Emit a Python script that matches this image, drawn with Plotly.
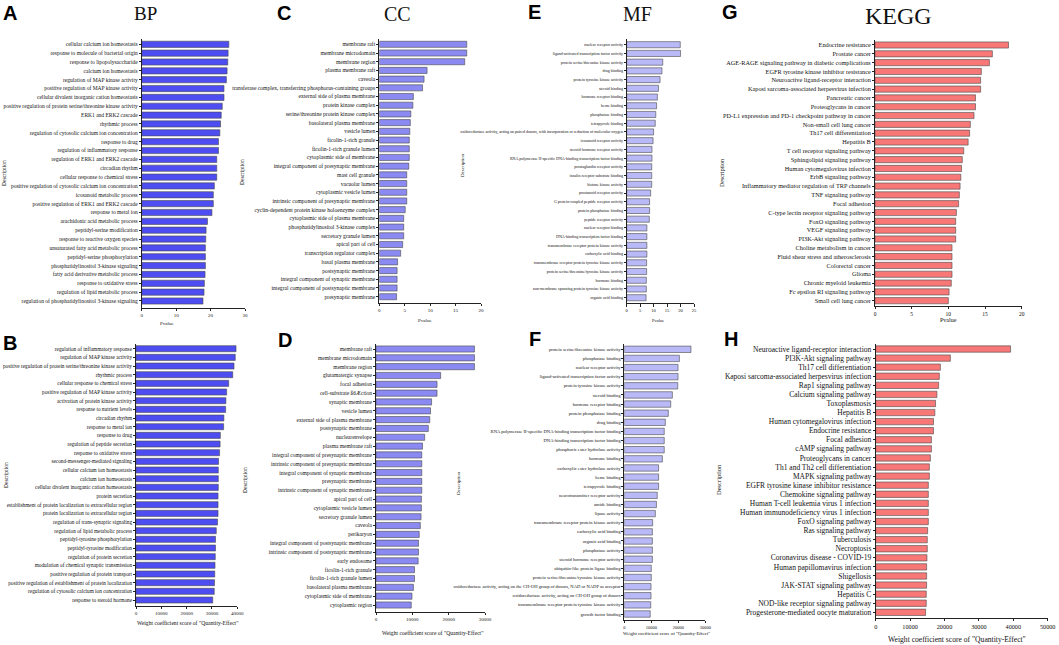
import plotly.graph_objects as go

W, H = 1059, 645

# ---------------- DATA ----------------
A_terms = ["cellular calcium ion homeostasis", "response to molecule of bacterial origin", "response to lipopolysaccharide",
           "calcium ion homeostasis", "regulation of MAP kinase activity", "positive regulation of MAP kinase activity",
           "cellular divalent inorganic cation homeostasis", "positive regulation of protein serine/threonine kinase activity",
           "ERK1 and ERK2 cascade", "rhythmic process", "regulation of cytosolic calcium ion concentration", "response to drug",
           "regulation of inflammatory response", "regulation of ERK1 and ERK2 cascade", "circadian rhythm",
           "cellular response to chemical stress", "positive regulation of cytosolic calcium ion concentration",
           "icosanoid metabolic process", "positive regulation of ERK1 and ERK2 cascade", "response to metal ion",
           "arachidonic acid metabolic process", "peptidyl-serine modification", "response to reactive oxygen species",
           "unsaturated fatty acid metabolic process", "peptidyl-serine phosphorylation", "phosphatidylinositol 3-kinase signaling",
           "fatty acid derivative metabolic process", "response to oxidative stress", "regulation of lipid metabolic process",
           "regulation of phosphatidylinositol 3-kinase signaling"]
A_vals = [25.3, 25.1, 25.0, 24.8, 24.6, 23.9, 23.9, 23.4, 23.1, 22.9, 22.7, 22.3, 22.3, 21.8, 21.8, 21.8, 21.1, 20.8, 20.8, 20.4,
          19.1, 18.7, 18.6, 18.5, 18.5, 18.5, 18.4, 18.2, 18.1, 17.8]

B_terms = ["regulation of inflammatory response", "regulation of MAP kinase activity",
           "positive regulation of protein serine/threonine kinase activity", "rhythmic process",
           "cellular response to chemical stress", "positive regulation of MAP kinase activity",
           "activation of protein kinase activity", "response to nutrient levels", "circadian rhythm", "response to metal ion",
           "response to drug", "regulation of peptide secretion", "response to oxidative stress",
           "second-messenger-mediated signaling", "cellular calcium ion homeostasis", "calcium ion homeostasis",
           "cellular divalent inorganic cation homeostasis", "protein secretion",
           "establishment of protein localization to extracellular region", "protein localization to extracellular region",
           "regulation of trans-synaptic signaling", "regulation of lipid metabolic process", "peptidyl-tyrosine phosphorylation",
           "peptidyl-tyrosine modification", "regulation of protein secretion", "modulation of chemical synaptic transmission",
           "positive regulation of protein transport", "positive regulation of establishment of protein localization",
           "regulation of cytosolic calcium ion concentration", "response to steroid hormone"]
B_vals = [39500, 39200, 38700, 38200, 36600, 35800, 35500, 35400, 34700, 34600, 33300, 33200, 33000, 32600, 32500, 32500, 32500,
          32400, 32400, 32400, 32200, 31700, 31400, 31400, 31300, 31200, 31100, 31000, 30900, 30300]

C_terms = ["membrane raft", "membrane microdomain", "membrane region", "plasma membrane raft", "caveola",
           "transferase complex, transferring phosphorus-containing groups", "external side of plasma membrane",
           "protein kinase complex", "serine/threonine protein kinase complex", "basolateral plasma membrane", "vesicle lumen",
           "ficolin-1-rich granule", "ficolin-1-rich granule lumen", "cytoplasmic side of membrane",
           "integral component of presynaptic membrane", "mast cell granule", "vacuolar lumen", "cytoplasmic vesicle lumen",
           "intrinsic component of presynaptic membrane", "cyclin-dependent protein kinase holoenzyme complex",
           "cytoplasmic side of plasma membrane", "phosphatidylinositol 3-kinase complex", "secretory granule lumen",
           "apical part of cell", "transcription regulator complex", "basal plasma membrane", "postsynaptic membrane",
           "integral component of synaptic membrane", "integral component of postsynaptic membrane", "presynaptic membrane"]
C_vals = [17.2, 17.2, 16.8, 9.4, 8.8, 8.5, 6.7, 6.6, 6.2, 6.1, 6.0, 5.9, 5.9, 5.9, 5.8, 5.4, 5.4, 5.4, 5.4, 5.1, 4.8, 4.8, 4.8,
          4.6, 4.2, 3.6, 3.5, 3.5, 3.5, 3.4]

D_terms = ["membrane raft", "membrane microdomain", "membrane region", "glutamatergic synapse", "focal adhesion",
           "cell-substrate ß6Æction", "synaptic membrane", "vesicle lumen", "external side of plasma membrane",
           "postsynaptic membrane", "nuclearenvelope", "plasma membrane raft", "integral component of presynaptic membrane",
           "intrinsic component of presynaptic membrane", "integral component of synaptic membrane", "presynaptic membrane",
           "intrinsic component of synaptic membrane", "apical part of cell", "cytoplasmic vesicle lumen",
           "secretory granule lumen", "caveola", "perikaryon", "integral component of postsynaptic membrane",
           "intrinsic component of postsynaptic membrane", "early endosome", "ficolin-1-rich granule",
           "ficolin-1-rich granule lumen", "basolateral plasma membrane", "cytoplasmic side of membrane", "cytoplasmic region"]
D_vals = [27100, 27100, 27100, 17800, 16800, 16800, 15300, 15000, 14800, 14400, 13400, 12800, 12600, 12600, 12600, 12600,
          12600, 12500, 12500, 12400, 12200, 11900, 11700, 11700, 11600, 10600, 10600, 10300, 9900, 9700]

E_terms = ["nuclear receptor activity", "ligand-activated transcription factor activity",
           "protein serine/threonine kinase activity", "drug binding", "protein tyrosine kinase activity", "steroid binding",
           "hormone receptor binding", "heme binding", "phosphatase binding", "tetrapyrrole binding",
           "oxidoreductase activity, acting on paired donors, with incorporation or reduction of molecular oxygen",
           "icosanoid receptor activity", "steroid hormone receptor activity",
           "RNA polymerase II-specific DNA-binding transcription factor binding", "prostaglandin receptor activity",
           "insulin receptor substrate binding", "histone kinase activity", "prostanoid receptor activity",
           "G protein-coupled peptide receptor activity", "protein phosphatase binding", "peptide receptor activity",
           "nuclear receptor binding", "DNA-binding transcription factor binding",
           "transmembrane receptor protein kinase activity", "carboxylic acid binding",
           "transmembrane receptor protein tyrosine kinase activity", "protein serine/threonine/tyrosine kinase activity",
           "hormone binding", "non-membrane spanning protein tyrosine kinase activity", "organic acid binding"]
E_vals = [19.9, 20.0, 13.4, 13.1, 12.4, 11.8, 11.4, 11.1, 10.8, 10.6, 10.0, 9.8, 9.4, 9.4, 9.3, 9.3, 9.3, 8.9, 8.5, 8.5, 8.4,
          7.5, 7.5, 7.5, 7.5, 7.4, 7.4, 7.3, 7.3, 7.2]

F_terms = ["protein serine/threonine kinase activity", "phosphatase binding", "nuclear receptor activity",
           "ligand-activated transcription factor activity", "protein tyrosine kinase activity", "steroid binding",
           "hormone receptor binding", "protein phosphatase binding", "drug binding",
           "RNA polymerase II-specific DNA-binding transcription factor binding", "DNA-binding transcription factor binding",
           "phosphoric ester hydrolase activity", "hormone binding", "carboxylic ester hydrolase activity", "heme binding",
           "tetrapyrrole binding", "neurotransmitter receptor activity", "amide binding", "lipase activity",
           "transmembrane receptor protein kinase activity", "carboxylic acid binding", "organic acid binding",
           "phosphatase activity", "steroid hormone receptor activity", "ubiquitin-like protein ligase binding",
           "protein serine/threonine/tyrosine kinase activity",
           "oxidoreductase activity, acting on the CH-OH group of donors, NAD or NADP as acceptor",
           "oxidoreductase activity, acting on CH-OH group of donors",
           "transmembrane receptor protein tyrosine kinase activity", "growth factor binding"]
F_vals = [24700, 20400, 19900, 19900, 19800, 17800, 17200, 16300, 15200, 14800, 14800, 14800, 14100, 12700, 12700, 12700,
          12200, 11900, 11500, 10500, 10400, 10400, 10400, 10400, 10000, 10000, 9900, 9900, 9800, 9600]

G_terms = ["Endocrine resistance", "Prostate cancer", "AGE-RAGE signaling pathway in diabetic complications",
           "EGFR tyrosine kinase inhibitor resistance", "Neuroactive ligand-receptor interaction",
           "Kaposi sarcoma-associated herpesvirus infection", "Pancreatic cancer", "Proteoglycans in cancer",
           "PD-L1 expression and PD-1 checkpoint pathway in cancer", "Non-small cell lung cancer", "Th17 cell differentiation",
           "Hepatitis B", "T cell receptor signaling pathway", "Sphingolipid signaling pathway",
           "Human cytomegalovirus infection", "ErbB signaling pathway", "Inflammatory mediator regulation of TRP channels",
           "TNF signaling pathway", "Focal adhesion", "C-type lectin receptor signaling pathway", "FoxO signaling pathway",
           "VEGF signaling pathway", "PI3K-Akt signaling pathway", "Choline metabolism in cancer",
           "Fluid shear stress and atherosclerosis", "Colorectal cancer", "Glioma", "Chronic myeloid leukemia",
           "Fc epsilon RI signaling pathway", "Small cell lung cancer"]
G_vals = [18.2, 16.0, 15.6, 14.5, 14.4, 14.4, 13.7, 13.7, 13.5, 13.0, 12.9, 12.7, 12.1, 11.9, 11.8, 11.7, 11.6, 11.5, 11.4,
          11.1, 11.0, 11.0, 11.0, 10.5, 10.5, 10.5, 10.5, 10.4, 10.1, 10.0]

H_terms = ["Neuroactive ligand-receptor interaction", "PI3K-Akt signaling pathway", "Th17 cell differentiation",
           "Kaposi sarcoma-associated herpesvirus infection", "Rap1 signaling pathway", "Calcium signaling pathway",
           "Toxoplasmosis", "Hepatitis B", "Human cytomegalovirus infection", "Endocrine resistance", "Focal adhesion",
           "cAMP signaling pathway", "Proteoglycans in cancer", "Th1 and Th2 cell differentiation", "MAPK signaling pathway",
           "EGFR tyrosine kinase inhibitor resistance", "Chemokine signaling pathway",
           "Human T-cell leukemia virus 1 infection", "Human immunodeficiency virus 1 infection", "FoxO signaling pathway",
           "Ras signaling pathway", "Tuberculosis", "Necroptosis", "Coronavirus disease - COVID-19",
           "Human papillomavirus infection", "Shigellosis", "JAK-STAT signaling pathway", "Hepatitis C",
           "NOD-like receptor signaling pathway", "Progesterone-mediated oocyte maturation"]
H_vals = [39200, 21700, 18800, 18500, 18300, 17800, 17400, 17200, 16800, 16800, 16200, 16200, 15900, 15600, 15600, 15300,
          15300, 15300, 15300, 15300, 15100, 15000, 15000, 14900, 14800, 14800, 14800, 14700, 14700, 14500]

PVAL_TITLE = "Pvalue"
WEIGHT_TITLE = 'Weight coefficient score of "Quantity-Effect"'
Y_TITLE = "Description"

# ---------------- LAYOUT SPEC ----------------
BLUE = "#4d4df2"
MID = "#8a8af2"
LIGHT = "#b9b9f7"
RED = "#f87777"

panels = [
    dict(t=A_terms, v=A_vals, c=BLUE, x0=141.7, x1=245.0, xmax=30, dt=10, first=44.3, last=301.0, ax=308.0, lf=5.5, tf=5.0),
    dict(t=B_terms, v=B_vals, c=BLUE, x0=136.0, x1=237.3, xmax=40000, dt=10000, first=348.7, last=600.0, ax=605.7, lf=5.3, tf=5.0),
    dict(t=C_terms, v=C_vals, c=MID, x0=379.3, x1=481.0, xmax=20, dt=5, first=44.3, last=296.7, ax=302.7, lf=5.6, tf=5.0),
    dict(t=D_terms, v=D_vals, c=MID, x0=376.0, x1=485.0, xmax=30000, dt=10000, first=349.0, last=605.0, ax=611.7, lf=5.5, tf=5.0),
    dict(t=E_terms, v=E_vals, c=LIGHT, x0=626.7, x1=694.0, xmax=25, dt=5, first=44.7, last=297.7, ax=303.3, lf=4.0, tf=4.5),
    dict(t=F_terms, v=F_vals, c=LIGHT, x0=624.3, x1=705.3, xmax=30000, dt=10000, first=349.3, last=614.0, ax=620.0, lf=4.6, tf=4.5),
    dict(t=G_terms, v=G_vals, c=RED, x0=875.0, x1=1021.7, xmax=20, dt=5, first=45.0, last=300.7, ax=306.0, lf=6.3, tf=5.5),
    dict(t=H_terms, v=H_vals, c=RED, x0=875.7, x1=1047.7, xmax=50000, dt=10000, first=349.0, last=612.3, ax=617.7, lf=7.5, tf=6.2),
]

SERIF = "Liberation Serif"
fig = go.Figure()
layout = {}
for i, p in enumerate(panels):
    n = i + 1
    xa = "x" if n == 1 else f"x{n}"
    ya = "y" if n == 1 else f"y{n}"
    fig.add_trace(go.Bar(
        x=p["v"], y=p["t"], orientation="h", xaxis=xa, yaxis=ya,
        marker=dict(color=p["c"], line=dict(color="#4a4a4a", width=0.6)),
        width=0.7, showlegend=False, hoverinfo="x+y"))
    slot = (p["last"] - p["first"]) / 29.0
    top_px = p["first"] - 0.6 * slot
    rb = (p["ax"] - p["first"]) / slot
    rt = (top_px - p["first"]) / slot
    xk = "xaxis" if n == 1 else f"xaxis{n}"
    yk = "yaxis" if n == 1 else f"yaxis{n}"
    layout[xk] = dict(domain=[p["x0"] / W, p["x1"] / W], range=[0, p["xmax"]], anchor=ya,
                      tickmode="linear", tick0=0, dtick=p["dt"], tickformat="d",
                      showline=True, linecolor="#222", linewidth=0.8, ticks="outside", ticklen=2.5,
                      tickwidth=0.7, tickcolor="#222", showgrid=False, zeroline=False,
                      tickfont=dict(family=SERIF, size=p["tf"], color="#111"), automargin=False, fixedrange=True)
    layout[yk] = dict(domain=[1 - p["ax"] / H, 1 - top_px / H], range=[rb, rt], anchor=xa,
                      type="category", categoryorder="array", categoryarray=p["t"],
                      tickmode="array", tickvals=p["t"], ticktext=p["t"],
                      showline=True, linecolor="#222", linewidth=0.8, ticks="outside", ticklen=2,
                      tickwidth=0.7, tickcolor="#222", showgrid=False, zeroline=False,
                      tickfont=dict(family=SERIF, size=p["lf"], color="#111"), automargin=False, fixedrange=True)

ann = []
def txt(x, y, s, size, family=SERIF, bold=False, angle=0, color="#111"):
    ann.append(dict(x=x / W, y=1 - y / H, xref="paper", yref="paper", text=(f"<b>{s}</b>" if bold else s),
                    showarrow=False, font=dict(family=family, size=size, color=color),
                    xanchor="center", yanchor="middle", textangle=angle))

# panel letters
for L, x, y in [("A", 10, 13), ("B", 10, 343), ("C", 284, 13), ("D", 285, 340),
                ("E", 534, 12), ("F", 535, 339), ("G", 730, 12), ("H", 731, 339)]:
    txt(x, y, L, 20, family="Liberation Sans", bold=True, color="#000")

# titles
txt(145, 13, "BP", 19)
txt(397, 14, "CC", 20)
txt(637, 14, "MF", 20)
txt(898, 16, "KEGG", 24)

# x axis titles
txt(167, 323, PVAL_TITLE, 5)
txt(187, 623, WEIGHT_TITLE, 5.6)
txt(425, 320, PVAL_TITLE, 5)
txt(432, 633, WEIGHT_TITLE, 5.6)
txt(658, 321, PVAL_TITLE, 4.5)
txt(666, 633, WEIGHT_TITLE, 4.8)
txt(948, 320, PVAL_TITLE, 6)
txt(957, 639, WEIGHT_TITLE, 7.6)

# y axis titles
for x, y, s in [(4, 173, 5.5), (6, 475, 5.5), (242, 172, 5.5), (245, 480, 5.5),
                (462, 165, 5), (458, 483, 5), (722, 173, 6), (718, 480, 6.5)]:
    txt(x, y, Y_TITLE, s, angle=-90)

fig.update_layout(width=W, height=H, margin=dict(l=0, r=0, t=0, b=0), paper_bgcolor="white",
                  plot_bgcolor="white", annotations=ann, bargap=0.3, **layout)

fig.write_html("out.html", config={"displayModeBar": False, "staticPlot": False},
               post_script="document.body.style.margin='0';document.body.style.padding='0';"
                           "document.documentElement.style.overflow='hidden';")
